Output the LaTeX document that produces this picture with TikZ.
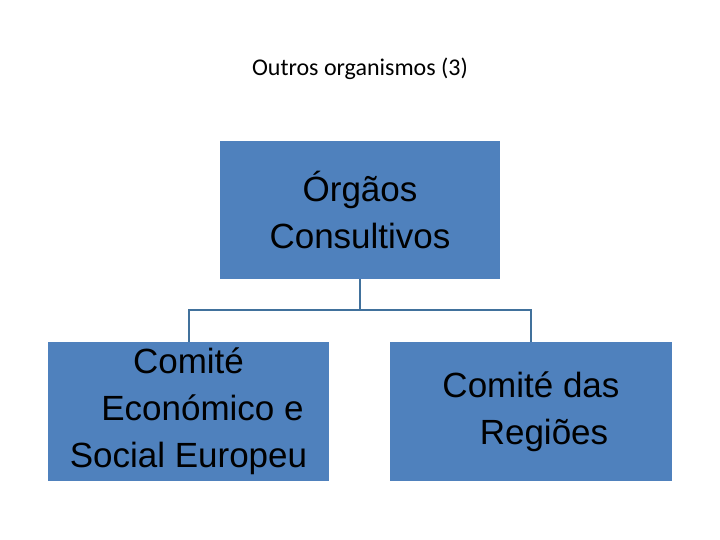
\documentclass[tikz,border=0pt]{standalone}
\usepackage{fontspec}
\setmainfont{Liberation Sans}
\newfontfamily\titlefont{Carlito}
\definecolor{boxblue}{HTML}{4F81BD}
\definecolor{linkblue}{HTML}{41719C}
\begin{document}
\begin{tikzpicture}[x=1pt,y=1pt,
  orgbox/.style={fill=boxblue,draw=none,minimum width=280pt,minimum height=138pt,inner sep=0pt,align=center,font=\fontsize{35}{47}\selectfont,text=black},
  link/.style={draw=linkblue,line width=2pt}]
\useasboundingbox (0,0) rectangle (720,540);
\node[font=\titlefont\fontsize{24}{28}\selectfont] (title) at (360,471) {Outros organismos (3)};
\node[orgbox] (top) at (360,330) {Órgãos\\Consultivos};
\node[orgbox,minimum width=281pt,minimum height=139pt] (left) at (188.5,128.5) {Comité\\\hspace*{28pt}Económico e\\Social Europeu};
\node[orgbox,minimum width=282pt,minimum height=139pt] (right) at (531,128.5) {Comité das\\\hspace*{26pt}Regiões};
\coordinate (mid) at (360,230);
\draw[link] (top.south) -- (mid);
\draw[link] (left.north) |- (mid) -| (right.north);
\end{tikzpicture}
\end{document}
